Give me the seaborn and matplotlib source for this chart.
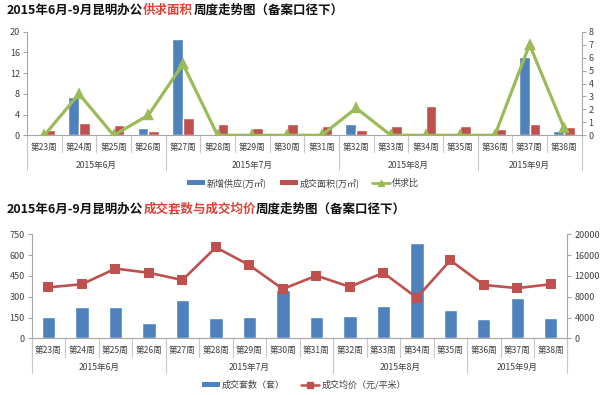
import numpy as np
import pandas as pd
import matplotlib
matplotlib.use("Agg")
import matplotlib.pyplot as plt
import matplotlib.transforms as mtransforms
from matplotlib.patches import Patch
from matplotlib.lines import Line2D
import seaborn as sns

# ---------------- data ----------------
weeks = ["第23周", "第24周", "第25周", "第26周", "第27周", "第28周", "第29周", "第30周",
         "第31周", "第32周", "第33周", "第34周", "第35周", "第36周", "第37周", "第38周"]
months = ["2015年6月", "2015年7月", "2015年8月", "2015年9月"]
month_sizes = [4, 5, 4, 3]

supply = [0, 7.3, 0, 1.35, 18.5, 0, 0, 0, 0, 2.2, 0, 0, 0, 0, 15.1, 0.9]
deal_area = [1.0, 2.3, 2.05, 0.85, 3.4, 2.1, 1.5, 2.25, 1.8, 1.0, 1.85, 5.6, 1.85, 1.15, 2.1, 1.65]
ratio = [0, 3.2, 0, 1.55, 5.5, 0, 0, 0, 0, 2.1, 0, 0, 0, 0, 7.0, 0.55]

deal_sets = [156, 228, 223, 110, 276, 146, 151, 346, 154, 161, 235, 689, 204, 141, 293, 146]
avg_price = [9800, 10400, 13400, 12600, 11200, 17500, 14050, 9480, 12050, 9900, 12600, 7800,
             15000, 10250, 9650, 10400]

name_supply = "新增供应(万㎡)"
name_area = "成交面积(万㎡)"
name_ratio = "供求比"
name_sets = "成交套数（套）"
name_price = "成交均价（元/平米）"

title1 = [("2015年6月-9月昆明办公", "k"), ("供求面积", "red"), ("周度走势图（备案口径下）", "k")]
title2 = [("2015年6月-9月昆明办公", "k"), ("成交套数与成交均价", "red"), ("周度走势图（备案口径下）", "k")]

# ---------------- style ----------------
sns.set_theme(style="white")
FAM = ["Noto Sans CJK SC", "DejaVu Sans"]
plt.rcParams["font.family"] = FAM
plt.rcParams["axes.unicode_minus"] = False

BLUE = "#4F81BD"
RED = "#C0504D"
GREEN = "#9BBB59"
TRED = "#D8453A"
GRAY = "#A6A6A6"
TXT = "#404040"

W, H = 600, 395
fig = plt.figure(figsize=(W / 100, H / 100), dpi=100)


def px_axes(l, t, r, b):
    return fig.add_axes([l / W, 1 - b / H, (r - l) / W, (b - t) / H])


def style_axes(ax, ax2, hpx, lab_dy, short_dy, mon_dy, long_dy):
    n = len(weeks)
    for a in (ax, ax2):
        a.set_xlim(-0.5, n - 0.5)
        a.set_xlabel("")
        a.set_ylabel("")
        a.spines["top"].set_visible(False)
        for s in ("left", "right", "bottom"):
            a.spines[s].set_color(GRAY)
            a.spines[s].set_linewidth(0.8)
    ax.spines["right"].set_visible(False)
    ax2.spines["left"].set_visible(False)
    ax2.spines["bottom"].set_visible(False)
    ax.set_xticks([])
    ax2.set_xticks([])
    ax.tick_params(axis="y", which="both", left=True, length=3, width=0.8, color=GRAY,
                   labelsize=6.5, labelcolor=TXT, pad=2)
    ax2.tick_params(axis="y", which="both", right=True, length=3, width=0.8, color=GRAY,
                    labelsize=6.5, labelcolor=TXT, pad=2)
    tr = mtransforms.blended_transform_factory(ax.transData, ax.transAxes)
    for i, w in enumerate(weeks):
        ax.text(i, -lab_dy / hpx, w, transform=tr, ha="center", va="center",
                fontsize=6.2, color=TXT)
    bounds = np.cumsum([0] + month_sizes) - 0.5
    for k in range(n + 1):
        x = k - 0.5
        ax.plot([x, x], [0, -short_dy / hpx], transform=tr, color="#C8C8C8", lw=0.8,
                clip_on=False)
    for x in bounds:
        ax.plot([x, x], [0, -long_dy / hpx], transform=tr, color="#C8C8C8", lw=0.8,
                clip_on=False)
    for m, a0, a1 in zip(months, bounds[:-1], bounds[1:]):
        ax.text((a0 + a1) / 2, -mon_dy / hpx, m, transform=tr, ha="center", va="center",
                fontsize=6.2, color=TXT)


def color_title(x_px, y_px, parts, size=9):
    renderer = fig.canvas.get_renderer()
    x = x_px
    for s, c in parts:
        col = TRED if c == "red" else "#111111"
        t = fig.text(x / W, 1 - y_px / H, s, color=col, fontsize=size, fontweight="bold",
                     ha="left", va="center", family=FAM)
        bb = t.get_window_extent(renderer)
        x += bb.width


# ---------------- top chart ----------------
df1 = pd.DataFrame({
    "week": weeks * 2,
    "value": supply + deal_area,
    "series": [name_supply] * len(weeks) + [name_area] * len(weeks),
})
ax1 = px_axes(27, 31.7, 581.5, 135.3)
sns.barplot(data=df1, x="week", y="value", hue="series", order=weeks,
            hue_order=[name_supply, name_area], palette=[BLUE, RED], width=0.62,
            saturation=1, legend=False, ax=ax1)
ax1.set_ylim(0, 20)
ax1.set_yticks([0, 4, 8, 12, 16, 20])
ax1b = ax1.twinx()
sns.pointplot(x=weeks, y=ratio, order=weeks, color=GREEN, marker="^", markersize=5.5,
              linewidth=2.3, errorbar=None, ax=ax1b)
ax1b.set_ylim(0, 8)
ax1b.set_yticks(range(0, 9))
style_axes(ax1, ax1b, 103.6, 12, 16.5, 30, 35)

# ---------------- bottom chart ----------------
df2 = pd.DataFrame({"week": weeks, "sets": deal_sets})
ax2 = px_axes(31.7, 234.3, 567.5, 338.3)
sns.barplot(data=df2, x="week", y="sets", order=weeks, color=BLUE, width=0.4,
            saturation=1, ax=ax2)
ax2.set_ylim(0, 750)
ax2.set_yticks([0, 150, 300, 450, 600, 750])
ax2b = ax2.twinx()
sns.pointplot(x=weeks, y=avg_price, order=weeks, color=RED, marker="s", markersize=5.5,
              linewidth=1.9, errorbar=None, ax=ax2b)
ax2b.set_ylim(0, 20000)
ax2b.set_yticks(range(0, 20001, 4000))
style_axes(ax2, ax2b, 104, 12, 18.4, 29.4, 35)

# ---------------- legends ----------------
h1 = [Patch(facecolor=BLUE, edgecolor="none", label=name_supply),
      Patch(facecolor=RED, edgecolor="none", label=name_area),
      Line2D([], [], color=GREEN, lw=2, marker="^", markersize=4, label=name_ratio)]
fig.legend(handles=h1, loc="center", bbox_to_anchor=(303 / W, 1 - 183 / H), ncol=3,
           frameon=False, fontsize=6.5, handlelength=2.0, handleheight=0.5,
           columnspacing=1.4, handletextpad=0.2, labelcolor=TXT)
h2 = [Patch(facecolor=BLUE, edgecolor="none", label=name_sets),
      Line2D([], [], color=RED, lw=1.8, marker="s", markersize=4, label=name_price)]
fig.legend(handles=h2, loc="center", bbox_to_anchor=(304 / W, 1 - 385 / H), ncol=2,
           frameon=False, fontsize=6.5, handlelength=2.0, handleheight=0.5,
           columnspacing=1.8, handletextpad=0.2, labelcolor=TXT)

# ---------------- titles ----------------
color_title(7, 10, title1)
color_title(7, 209, title2)

fig.savefig("out.png", dpi=100)
